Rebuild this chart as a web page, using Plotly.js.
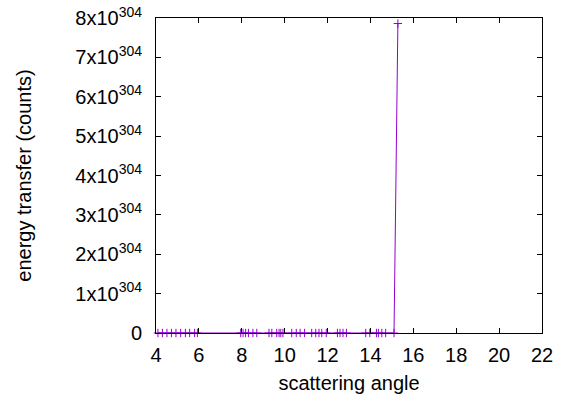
<!DOCTYPE html>
<html>
<head>
<meta charset="utf-8">
<script src="https://cdn.plot.ly/plotly-3.0.1.min.js"></script>
<style>html,body{margin:0;padding:0;background:#fff;}#chart{width:570px;height:400px;}</style>
</head>
<body>
<div id="chart"></div>
<script>
// scattering angle values
const angles = [4.09, 4.30, 4.51, 4.72, 4.93, 5.15, 5.37, 5.57, 5.80, 5.93,
  7.95, 8.06, 8.18, 8.31, 8.52, 8.70, 9.27, 9.40, 9.63, 9.74, 9.82, 9.92,
  10.33, 10.54, 10.72, 10.93, 11.26, 11.45, 11.60, 11.73, 11.94,
  12.46, 12.58, 12.72, 12.88, 13.78, 13.97, 14.28, 14.37, 14.53, 14.71, 15.10, 15.28];
// energy transfer (counts), in units of 1x10^304
// (Plotly clamps raw values above ~1.8e304, so values are kept in these units)
const energyE304 = [0, 0, 0, 0, 0, 0, 0, 0, 0, 0,
  0, 0, 0, 0, 0, 0, 0, 0, 0, 0, 0, 0,
  0, 0, 0, 0, 0, 0, 0, 0, 0,
  0, 0, 0, 0, 0, 0, 0, 0, 0, 0, 0, 7.86];
const xTicks = [4, 6, 8, 10, 12, 14, 16, 18, 20, 22];
const yTickVals = [0, 1, 2, 3, 4, 5, 6, 7, 8];
const yTickText = ['0', '1x10<sup>304</sup>', '2x10<sup>304</sup>', '3x10<sup>304</sup>', '4x10<sup>304</sup>',
  '5x10<sup>304</sup>', '6x10<sup>304</sup>', '7x10<sup>304</sup>', '8x10<sup>304</sup>'];

const font = {family: 'Liberation Sans, Arial, sans-serif', size: 20, color: '#000'};
const trace = {
  x: angles, y: energyE304, type: 'scatter', mode: 'lines+markers',
  line: {color: '#9400d3', width: 1},
  marker: {symbol: 'cross-thin', size: 6, line: {color: '#9400d3', width: 1}, color: '#9400d3'},
  hoverinfo: 'none', cliponaxis: false
};
const axisCommon = {
  showline: true, mirror: 'allticks', linecolor: '#000', linewidth: 1,
  ticks: 'inside', ticklen: 5, tickcolor: '#000', tickwidth: 1,
  showgrid: false, zeroline: false, tickfont: font
};
const layout = {
  width: 570, height: 400,
  margin: {l: 156, r: 28, t: 18, b: 67},
  paper_bgcolor: '#fff', plot_bgcolor: '#fff',
  showlegend: false,
  font: font,
  xaxis: Object.assign({}, axisCommon, {
    range: [4, 22], tickmode: 'array', tickvals: xTicks, ticktext: xTicks.map(String),
    ticklabelstandoff: 4,
    title: {text: 'scattering angle', font: font, standoff: 10}
  }),
  yaxis: Object.assign({}, axisCommon, {
    range: [0, 8], tickmode: 'array', tickvals: yTickVals, ticktext: yTickText,
    ticklabelstandoff: 9,
    title: {text: 'energy transfer (counts)', font: font, standoff: 38}
  })
};
Plotly.newPlot('chart', [trace], layout, {staticPlot: true, displayModeBar: false});
</script>
</body>
</html>
